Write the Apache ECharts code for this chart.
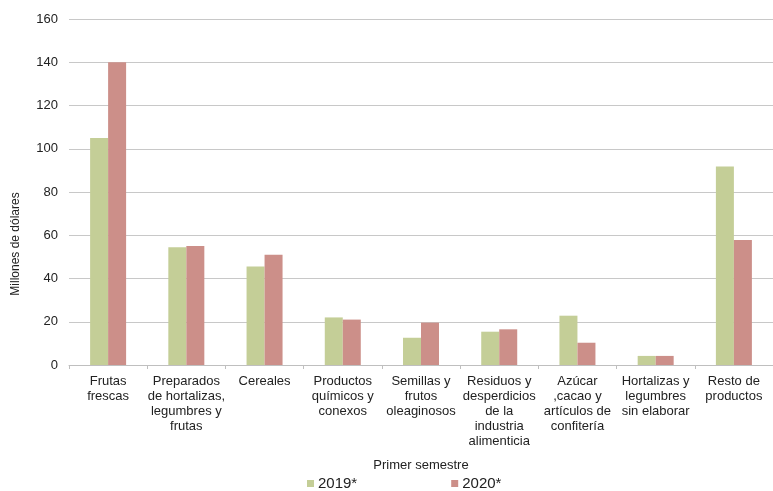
<!DOCTYPE html>
<html>
<head>
<meta charset="utf-8">
<script src="https://cdn.jsdelivr.net/npm/echarts@6/dist/echarts.min.js"></script>
<style>
  html, body { margin: 0; padding: 0; background: #fff; }
  #main { width: 773px; height: 491px; }
</style>
</head>
<body>
<div id="main"></div>
<script>
// datos
var categories = [
  "Frutas\nfrescas",
  "Preparados\nde hortalizas,\nlegumbres y\nfrutas",
  "Cereales",
  "Productos\nquímicos y\nconexos",
  "Semillas y\nfrutos\noleaginosos",
  "Residuos y\ndesperdicios\nde la\nindustria\nalimenticia",
  "Azúcar\n,cacao y\nartículos de\nconfitería",
  "Hortalizas y\nlegumbres\nsin elaborar",
  "Resto de\nproductos"
];
var values2019 = [105, 54.5, 45.5, 22, 12.6, 15.4, 22.8, 4.2, 91.8];
var values2020 = [140, 55, 51, 21, 19.6, 16.5, 10.3, 4.2, 57.8];
var yTicks = [0, 20, 40, 60, 80, 100, 120, 140, 160];

var chartDom = document.getElementById("main");
var myChart = echarts.init(chartDom);
var font = "Liberation Sans, Arial, sans-serif";

var option = {
  animation: false,
  textStyle: { fontFamily: font },
  grid: {
    left: 69,
    top: 19,
    width: 711,
    height: 346,
    containLabel: false
  },
  legend: {
    left: 307,
    top: 476,
    padding: 0,
    itemWidth: 7,
    itemHeight: 7,
    itemGap: 94,
    icon: "rect",
    textStyle: { fontSize: 15, color: "#222", fontFamily: font, padding: [0, 0, 0, -1] },
    data: ["2019*", "2020*"]
  },
  xAxis: {
    type: "category",
    data: categories,
    name: "Primer semestre",
    nameLocation: "middle",
    nameGap: 94,
    nameTextStyle: { fontSize: 13, color: "#222", fontFamily: font },
    axisLine: { lineStyle: { color: "#bfbfbf", width: 1 } },
    axisTick: { show: true, length: 4, lineStyle: { color: "#bfbfbf" } },
    axisLabel: {
      interval: 0,
      fontSize: 13,
      lineHeight: 15,
      color: "#222",
      margin: 9,
      fontFamily: font
    }
  },
  yAxis: {
    type: "value",
    min: yTicks[0],
    max: yTicks[yTicks.length - 1],
    interval: 20,
    axisLine: { show: false },
    axisTick: { show: false },
    axisLabel: { fontSize: 13, color: "#222", margin: 11, fontFamily: font },
    splitLine: { lineStyle: { color: "#c8c8c8", width: 1 } }
  },
  graphic: [
    {
      type: "text",
      x: 16,
      y: 244,
      rotation: Math.PI / 2,
      style: {
        text: "Millones de dólares",
        fontSize: 12,
        fontFamily: font,
        fill: "#222",
        align: "center",
        verticalAlign: "middle"
      }
    }
  ],
  series: [
    {
      name: "2019*",
      type: "bar",
      data: values2019,
      barWidth: 18,
      barGap: "0%",
      itemStyle: { color: "#c4ce97" }
    },
    {
      name: "2020*",
      type: "bar",
      data: values2020,
      barWidth: 18,
      itemStyle: { color: "#cc8f89" }
    }
  ]
};

option && myChart.setOption(option);
</script>
</body>
</html>
